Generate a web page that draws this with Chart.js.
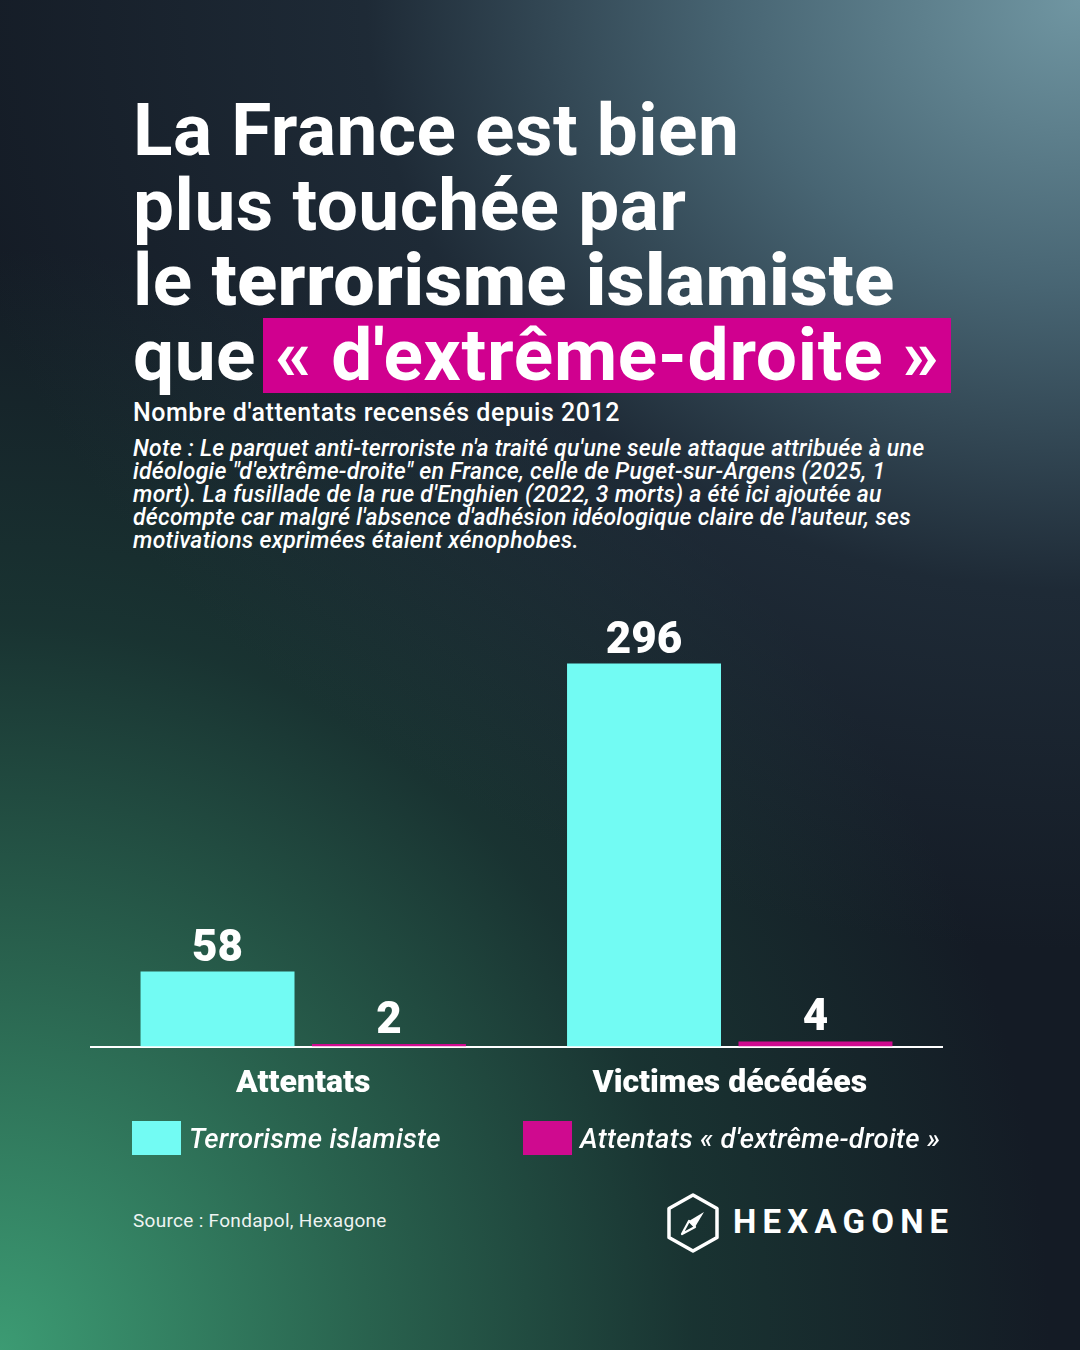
<!DOCTYPE html>
<html lang="fr">
<head>
<meta charset="utf-8">
<script src="https://cdn.jsdelivr.net/npm/chart.js@4.4.1/dist/chart.umd.min.js"></script>
<style>
  html, body { margin:0; padding:0; }
  body { width:1080px; height:1350px; overflow:hidden; }
  #bg {
    position:absolute; left:0; top:0; width:1080px; height:1350px;
    background:
      radial-gradient(ellipse 1150px 950px at 100% 0%, rgba(112,150,162,1) 0%, rgba(85,120,135,0.8) 30%, rgba(45,65,80,0.4) 62%, rgba(20,28,38,0) 100%),
      radial-gradient(ellipse 1050px 1100px at 0% 100%, rgba(60,155,115,1) 0%, rgba(45,112,86,0.84) 35%, rgba(30,75,62,0.5) 66%, rgba(20,28,38,0) 100%),
      #141b25;
  }
  .t { position:absolute; left:133px; color:#fff; font-family:Roboto, sans-serif; font-weight:700; font-size:73px; line-height:75px; white-space:nowrap; letter-spacing:0.5px; }
  .heavy { font-weight:900; letter-spacing:0.8px; }
  .hl { display:inline-block; background:#d0008f; height:75px; padding:0 11px 0 12px; margin-left:7px; letter-spacing:0.75px; }
  #sub { position:absolute; left:133px; top:398px; color:#fff; font-family:Roboto, sans-serif; font-weight:500; font-size:25px; line-height:30px; white-space:nowrap; letter-spacing:0.55px; }
  .n { position:absolute; left:133px; color:#fff; font-family:Roboto, sans-serif; font-style:italic; font-weight:500; font-size:23px; line-height:23px; white-space:nowrap; letter-spacing:0.25px; }
  #chartbox { position:absolute; left:90px; top:560px; width:853px; height:561px; }
  #legend { position:absolute; left:0; top:1120px; width:1080px; height:36px; }
  .lg { position:absolute; top:0; height:36px; display:flex; align-items:center; color:#fff; font-family:Roboto, sans-serif; font-style:italic; font-weight:500; font-size:27.5px; white-space:nowrap; letter-spacing:0.3px; }
  .sw { width:49px; height:34px; margin-right:8px; }
  #src { position:absolute; left:133px; top:1210px; color:#fff; font-family:Roboto, sans-serif; font-size:19px; line-height:22px; opacity:0.92; letter-spacing:0.3px; }
  #logo { position:absolute; left:664px; top:1192px; }
  #brand { position:absolute; left:733px; top:1202px; color:#fff; font-family:Roboto, sans-serif; font-weight:700; font-size:33px; line-height:40px; letter-spacing:6.2px; }
</style>
</head>
<body>
<div id="bg"></div>

<div class="t" style="top:93px">La France est bien</div>
<div class="t" style="top:168px">plus touchée par</div>
<div class="t" style="top:243px">le <span class="heavy">terrorisme islamiste</span></div>
<div class="t" style="top:318px">que<span class="hl">« d'extrême-droite »</span></div>

<div id="sub">Nombre d'attentats recensés depuis 2012</div>
<div class="n" style="top:437px">Note : Le parquet anti-terroriste n'a traité qu'une seule attaque attribuée à une</div>
<div class="n" style="top:460px">idéologie "d'extrême-droite" en France, celle de Puget-sur-Argens (2025, 1</div>
<div class="n" style="top:483px">mort). La fusillade de la rue d'Enghien (2022, 3 morts) a été ici ajoutée au</div>
<div class="n" style="top:506px">décompte car malgré l'absence d'adhésion idéologique claire de l'auteur, ses</div>
<div class="n" style="top:529px">motivations exprimées étaient xénophobes.</div>

<div id="chartbox"><canvas id="c" width="853" height="561"></canvas></div>

<div id="legend"></div>

<div id="src">Source : Fondapol, Hexagone</div>
<svg id="logo" width="58" height="62" viewBox="0 0 58 62">
  <polygon points="29,3 53,16.5 53,45.5 29,59 5,45.5 5,16.5" fill="none" stroke="#fff" stroke-width="3.5" stroke-linejoin="round"/>
  <polygon points="40,20 31,35 25,29" fill="#fff"/>
  <polygon points="18,42 25,29 31,35" fill="none" stroke="#fff" stroke-width="2.2" stroke-linejoin="round"/>
</svg>
<div id="brand">HEXAGONE</div>

<script>
// ---- data ----
const categories = ["Attentats", "Victimes décédées"];
const seriesNames = ["Terrorisme islamiste", "Attentats « d'extrême-droite »"];
const islamisteValues = [58, 296];
const extremeDroiteValues = [2, 4];
const seriesColors = ["#72fbf3", "#cf0a8f"];

// ---- legend (HTML) ----
const legendX = [132, 523];
const legend = document.getElementById('legend');
seriesNames.forEach((name, i) => {
  const d = document.createElement('div');
  d.className = 'lg';
  d.style.left = legendX[i] + 'px';
  d.innerHTML = '<div class="sw" style="background:' + seriesColors[i] + '"></div><span>' + name + '</span>';
  legend.appendChild(d);
});

// ---- value labels plugin ----
const valueLabels = {
  id: 'valueLabels',
  afterDatasetsDraw(chart) {
    const ctx = chart.ctx;
    ctx.save();
    ctx.fillStyle = '#fff';
    ctx.font = '900 44px Roboto, sans-serif';
    ctx.textAlign = 'center';
    ctx.textBaseline = 'alphabetic';
    chart.data.datasets.forEach((ds, di) => {
      const meta = chart.getDatasetMeta(di);
      meta.data.forEach((el, i) => {
        ctx.fillText(String(ds.data[i]), el.x, el.y - 11);
      });
    });
    ctx.restore();
  }
};

new Chart(document.getElementById('c'), {
  type: 'bar',
  data: {
    labels: categories,
    datasets: [
      { label: seriesNames[0], data: islamisteValues, backgroundColor: seriesColors[0], borderWidth: 0 },
      { label: seriesNames[1], data: extremeDroiteValues, backgroundColor: seriesColors[1], borderWidth: 0 }
    ]
  },
  options: {
    responsive: false,
    animation: false,
    devicePixelRatio: 1,
    categoryPercentage: 0.804,
    barPercentage: 0.898,
    layout: { padding: 0 },
    plugins: { legend: { display: false }, tooltip: { enabled: false } },
    scales: {
      x: {
        grid: { display: false, drawTicks: false },
        border: { display: true, color: '#ffffff', width: 2 },
        ticks: { color: '#fff', font: { family: 'Roboto', weight: '900', size: 32 }, padding: 18 }
      },
      y: { display: false, min: 0, max: 376 }
    }
  },
  plugins: [valueLabels]
});
</script>
</body>
</html>
